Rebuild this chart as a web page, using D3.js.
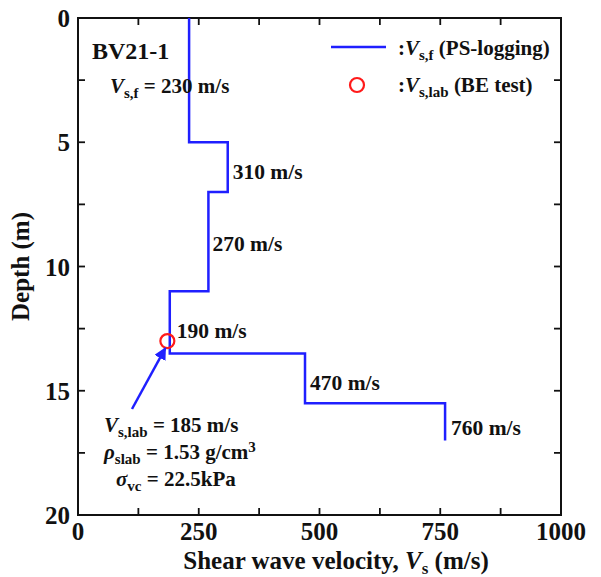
<!DOCTYPE html>
<html>
<head>
<meta charset="utf-8">
<script src="https://cdn.jsdelivr.net/npm/d3@7"></script>
<style>
  body { margin: 0; background: #fff; }
</style>
</head>
<body>
<div id="chart"></div>
<script>
// perfil Vs de campo (PS-logging): capas de profundidad y velocidad
const layerTop = [0, 5, 7, 11, 13.5, 15.5];
const layerBottom = [5, 7, 11, 13.5, 15.5, 17];
const layerVs = [230, 310, 270, 190, 470, 760];

// ensayo de laboratorio (BE test)
const labVs = [185];
const labDepth = [13];

const xTicks = [0, 250, 500, 750, 1000];
const yTicks = [0, 5, 10, 15, 20];

const W = 601, H = 577;
const m = { left: 78, right: 40, top: 18, bottom: 62 };

const svg = d3.select("#chart").append("svg")
    .attr("width", W).attr("height", H)
    .attr("font-family", "'Liberation Serif', 'DejaVu Serif', serif")
    .attr("font-weight", "bold")
    .attr("fill", "#111");

const x = d3.scaleLinear().domain([0, 1000]).range([m.left, W - m.right]);
const y = d3.scaleLinear().domain([0, 20]).range([m.top, H - m.bottom]);

const tickLen = 7;
const minorX = d3.range(0, 1001, 125);
const minorY = d3.range(0, 20.01, 2.5);

// ticks hacia adentro en los cuatro lados
const g = svg.append("g").attr("stroke", "#111").attr("stroke-width", 1.8);
minorX.forEach(v => {
    g.append("line").attr("x1", x(v)).attr("x2", x(v)).attr("y1", y(20)).attr("y2", y(20) - tickLen);
    g.append("line").attr("x1", x(v)).attr("x2", x(v)).attr("y1", y(0)).attr("y2", y(0) + tickLen);
});
minorY.forEach(v => {
    g.append("line").attr("y1", y(v)).attr("y2", y(v)).attr("x1", x(0)).attr("x2", x(0) + tickLen);
    g.append("line").attr("y1", y(v)).attr("y2", y(v)).attr("x1", x(1000)).attr("x2", x(1000) - tickLen);
});

svg.append("rect")
    .attr("x", x(0)).attr("y", y(0))
    .attr("width", x(1000) - x(0)).attr("height", y(20) - y(0))
    .attr("fill", "none").attr("stroke", "#111").attr("stroke-width", 2);

// etiquetas de ticks
svg.selectAll(".xt").data(xTicks).enter().append("text")
    .attr("x", d => x(d)).attr("y", y(20) + 25)
    .attr("text-anchor", "middle").attr("font-size", 25)
    .text(d => d);
svg.selectAll(".yt").data(yTicks).enter().append("text")
    .attr("x", x(0) - 8).attr("y", d => y(d) + 9)
    .attr("text-anchor", "end").attr("font-size", 25)
    .text(d => d);

// títulos de ejes
const xt = svg.append("text").attr("x", 336).attr("y", 569)
    .attr("text-anchor", "middle").attr("font-size", 25);
xt.append("tspan").text("Shear wave velocity, ");
xt.append("tspan").attr("font-style", "italic").text("V");
xt.append("tspan").attr("dy", 5).attr("font-size", 17).text("s");
xt.append("tspan").attr("dy", -5).text(" (m/s)");

svg.append("text")
    .attr("transform", `translate(29,${(y(0) + y(20)) / 2}) rotate(-90)`)
    .attr("text-anchor", "middle").attr("font-size", 25)
    .text("Depth (m)");

// perfil escalonado
const pts = [];
layerVs.forEach((v, i) => { pts.push([v, layerTop[i]]); pts.push([v, layerBottom[i]]); });
svg.append("path")
    .attr("d", d3.line().x(d => x(d[0])).y(d => y(d[1]))(pts))
    .attr("fill", "none").attr("stroke", "#1f1fff").attr("stroke-width", 2.5);

// etiquetas de capas
const labelDx = [0, 5, 4, 7, 5, 6];
const labelDepth = [null, 6.2, 9.1, 12.6, 14.7, 16.5];
layerVs.forEach((v, i) => {
    if (i === 0) return;
    svg.append("text")
        .attr("x", x(v) + labelDx[i]).attr("y", y(labelDepth[i]) + 7)
        .attr("font-size", 21.5).text(v + " m/s");
});

function sub(tx, yy, main, italic, s, rest) {
    const t = svg.append("text").attr("x", tx).attr("y", yy).attr("font-size", 21);
    t.append("tspan").attr("font-style", italic ? "italic" : "normal").text(main);
    t.append("tspan").attr("dy", 5).attr("font-size", 15).text(s);
    t.append("tspan").attr("dy", -5).text(rest);
    return t;
}
sub(110, 93, "V", true, "s,f", " = " + layerVs[0] + " m/s");

svg.append("text").attr("x", 92).attr("y", 59).attr("font-size", 24).text("BV21-1");

// punto de laboratorio
svg.selectAll(".lab").data(labVs).enter().append("circle")
    .attr("cx", d => x(d)).attr("cy", (d, i) => y(labDepth[i])).attr("r", 7)
    .attr("fill", "none").attr("stroke", "#ff1a1a").attr("stroke-width", 2.2);

// flecha
svg.append("defs").append("marker")
    .attr("id", "ah").attr("viewBox", "0 0 10 10").attr("refX", 9).attr("refY", 5)
    .attr("markerWidth", 5).attr("markerHeight", 5).attr("orient", "auto")
    .append("path").attr("d", "M0,0 L10,5 L0,10 z").attr("fill", "#1f1fff");
svg.append("line")
    .attr("x1", 132).attr("y1", 409)
    .attr("x2", x(labVs[0]) - 2).attr("y2", y(labDepth[0]) + 7)
    .attr("stroke", "#1f1fff").attr("stroke-width", 2.5).attr("marker-end", "url(#ah)");

// texto de propiedades
sub(104, 432, "V", true, "s,lab", " = " + labVs[0] + " m/s");
const rho = sub(104, 459, "ρ", true, "slab", " = 1.53 g/cm");
rho.append("tspan").attr("dy", -7).attr("font-size", 15).text("3");
sub(116, 486, "σ", true, "vc", " = 22.5kPa");

// leyenda
svg.append("line").attr("x1", 331).attr("x2", 386).attr("y1", 47).attr("y2", 47)
    .attr("stroke", "#1f1fff").attr("stroke-width", 2.5);
svg.append("circle").attr("cx", 357).attr("cy", 85).attr("r", 7)
    .attr("fill", "none").attr("stroke", "#ff1a1a").attr("stroke-width", 2.2);
const l1 = svg.append("text").attr("x", 398).attr("y", 55).attr("font-size", 21);
l1.append("tspan").text(":");
l1.append("tspan").attr("font-style", "italic").text("V");
l1.append("tspan").attr("dy", 5).attr("font-size", 15).text("s,f");
l1.append("tspan").attr("dy", -5).text(" (PS-logging)");
const l2 = svg.append("text").attr("x", 398).attr("y", 92).attr("font-size", 21);
l2.append("tspan").text(":");
l2.append("tspan").attr("font-style", "italic").text("V");
l2.append("tspan").attr("dy", 5).attr("font-size", 15).text("s,lab");
l2.append("tspan").attr("dy", -5).text(" (BE test)");
</script>
</body>
</html>
